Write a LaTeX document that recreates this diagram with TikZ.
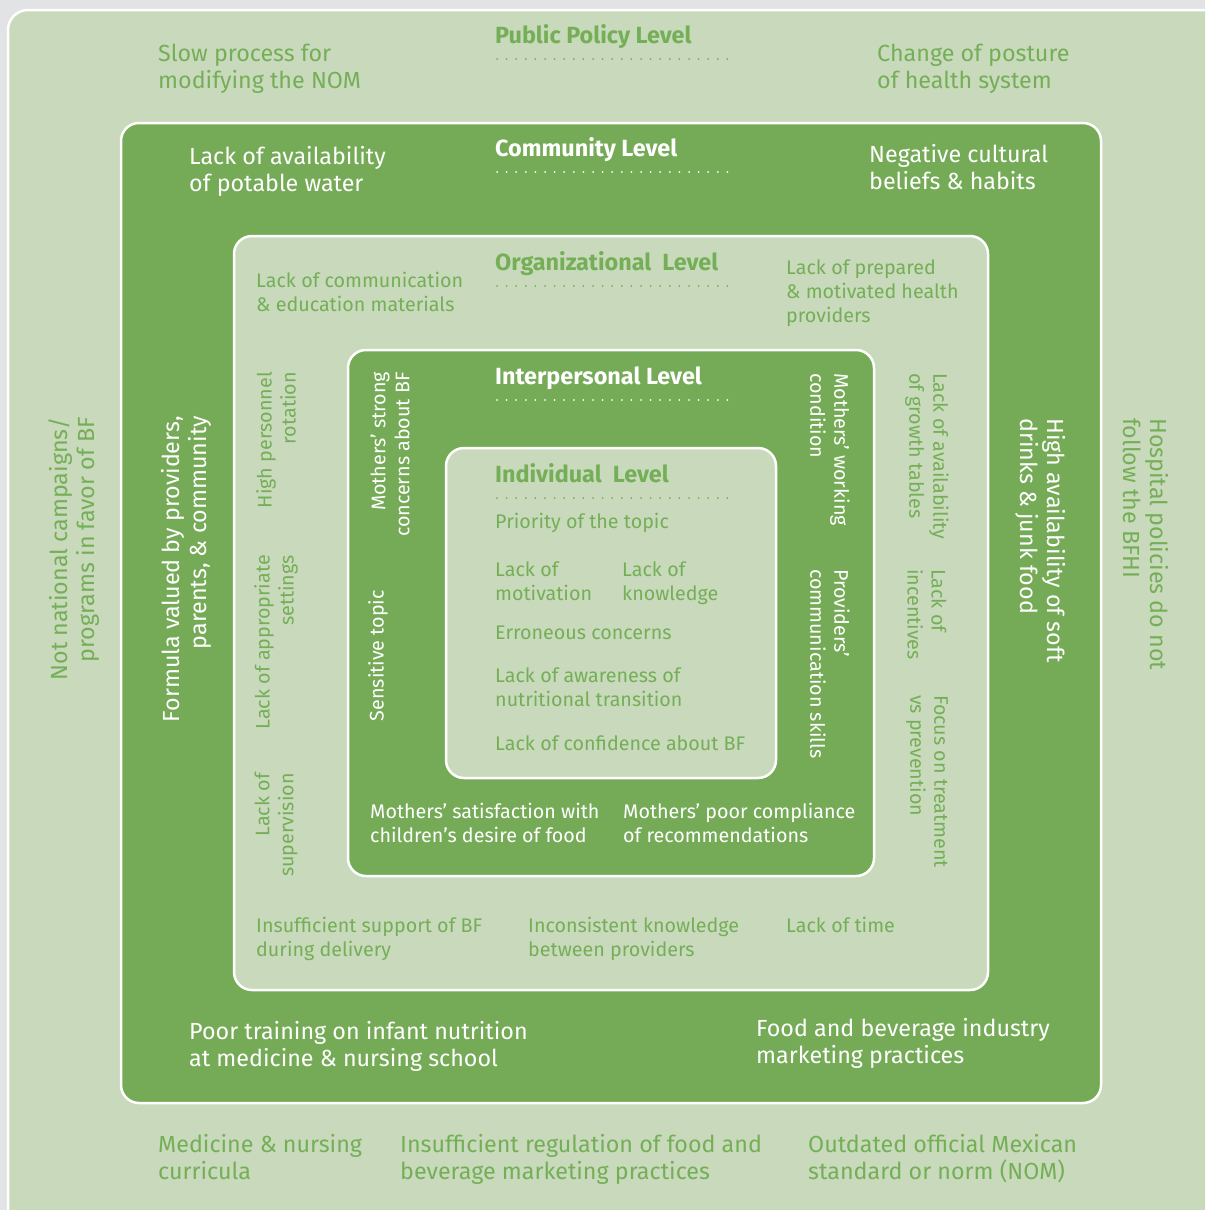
\documentclass[tikz,border=0pt]{standalone}
\usepackage{fontspec}
\setmainfont{Fira Sans}
\definecolor{pagegray}{HTML}{E1E3E5}
\definecolor{palegreen}{HTML}{C9D9BC}
\definecolor{leafgreen}{HTML}{75AB57}
\definecolor{inkgreen}{HTML}{74AF57}
\tikzset{
  ring/.style={draw=white, line width=2.5pt, rounded corners=18pt},
  palebox/.style={ring, fill=palegreen},
  leafbox/.style={ring, fill=leafgreen},
  big/.style={font=\fontsize{23.3}{27}\selectfont, inner sep=0pt, align=left, anchor=base west},
  small/.style={font=\fontsize{19.7}{24}\selectfont, inner sep=0pt, align=left, anchor=base west},
  title/.style={font=\fontsize{23.4}{27}\selectfont\bfseries, inner sep=0pt, anchor=base west},
  onpale/.style={text=inkgreen},
  onleaf/.style={text=white},
  dots/.style={line width=2pt, line cap=round, dash pattern=on 0pt off 9.6pt},
  up/.style={rotate=90, anchor=east, align=right},
  down/.style={rotate=-90, anchor=west, align=left}
}
\begin{document}
\begin{tikzpicture}[x=1pt, y=-1pt]
  \useasboundingbox (0,0) rectangle (1205,1210);
  \fill[pagegray] (0,0) rectangle (1205,1210);
  \clip (0,0) rectangle (1205,1210);

  % nested levels of the socio-ecological model
  \draw[palebox, rounded corners=20pt] (8,10) rectangle (1230,1230);
  \draw[leafbox] (121,123) rectangle (1101,1103);
  \draw[palebox] (234,236) rectangle (988,990);
  \draw[leafbox] (348,350) rectangle (874,876);
  \draw[palebox] (446,448) rectangle (776,778);

  % level titles with dotted rules
  \node[title, onpale] (tpolicy) at (495,43) {Public Policy Level};
  \draw[dots, inkgreen] (497,59) -- (735,59);
  \node[title, onleaf] (tcomm) at (495,156) {Community Level};
  \draw[dots, white] (497,172) -- (735,172);
  \node[title, onpale] (torg) at (495,270) {Organizational\ \ Level};
  \draw[dots, inkgreen] (497,286) -- (735,286);
  \node[title, onleaf] (tinter) at (495,384) {Interpersonal Level};
  \draw[dots, white] (497,400) -- (735,400);
  \node[title, onpale] (tind) at (495,482) {Individual\ \ Level};
  \draw[dots, inkgreen] (497,498) -- (735,498);

  % public policy level (multi-line nodes sit on the baseline of their last line)
  \node[big, onpale] (p1) at (158,88) {Slow process for\\modifying the NOM};
  \node[big, onpale] (p2) at (877,88) {Change of posture\\of health system};
  \node[big, onpale, up] (p3) at (74,417) {Not national campaigns/\\programs in favor of BF};
  \node[big, onpale, down] (p4) at (1146,418) {Hospital policies do not\\follow the BFHI};
  \node[big, onpale] (p5) at (158,1179) {Medicine \& nursing\\curricula};
  \node[big, onpale] (p6) at (400,1179) {Insufficient regulation of food and\\beverage marketing practices};
  \node[big, onpale] (p7) at (808,1179) {Outdated official Mexican\\standard or norm (NOM)};

  % community level
  \node[big, onleaf] (c1) at (189,191) {Lack of availability\\of potable water};
  \node[big, onleaf] (c2) at (869,189) {Negative cultural\\beliefs \& habits};
  \node[big, onleaf, up] (c3) at (186,416) {Formula valued by providers,\\parents,\ \& community};
  \node[big, onleaf, down] (c4) at (1041,418) {High availability of soft\\drinks \& junk food};
  \node[big, onleaf] (c5) at (189,1066) {Poor training on infant nutrition\\at medicine \& nursing school};
  \node[big, onleaf] (c6) at (756,1063) {Food and beverage industry\\marketing practices};

  % organizational level
  \node[small, onpale] (o1) at (256,311) {Lack of communication\\\& education materials};
  \node[small, onpale] (o2) at (786,322) {Lack of prepared\\\& motivated health\\providers};
  \node[small, onpale, up] (o3) at (276,372) {High personnel\\rotation};
  \node[small, onpale, up] (o4) at (276,555) {Lack of appropriate\\settings};
  \node[small, onpale, up] (o5) at (276,773) {Lack of\\supervision};
  \node[small, onpale, down] (o6) at (927,373) {Lack of availability\\of growth tables};
  \node[small, onpale, down] (o7) at (927,569) {Lack of\\incentives};
  \node[small, onpale, down] (o8) at (927,695) {Focus on treatment\\vs prevention};
  \node[small, onpale] (o9) at (256,956) {Insufficient support of BF\\during delivery};
  \node[small, onpale] (o10) at (528,956) {Inconsistent knowledge\\between providers};
  \node[small, onpale] (o11) at (786,932) {Lack of time};

  % interpersonal level
  \node[small, onleaf, up] (i1) at (390,372) {Mothers' strong\\concerns about BF};
  \node[small, onleaf, up] (i2) at (378,590) {Sensitive topic};
  \node[small, onleaf, down] (i3) at (830,373) {Mothers' working\\condition};
  \node[small, onleaf, down] (i4) at (830,569) {Providers'\\communication skills};
  \node[small, onleaf] (i5) at (370,842) {Mothers' satisfaction with\\children's desire of food};
  \node[small, onleaf] (i6) at (623,842) {Mothers' poor compliance\\of recommendations};

  % individual level
  \node[small, onpale] (d1) at (495,528) {Priority of the topic};
  \node[small, onpale] (d2) at (495,600) {Lack of\\motivation};
  \node[small, onpale] (d3) at (622,600) {Lack of\\knowledge};
  \node[small, onpale] (d4) at (495,639) {Erroneous concerns};
  \node[small, onpale] (d5) at (495,706) {Lack of awareness of\\nutritional transition};
  \node[small, onpale] (d6) at (495,750) {Lack of confidence about BF};
\end{tikzpicture}
\end{document}
